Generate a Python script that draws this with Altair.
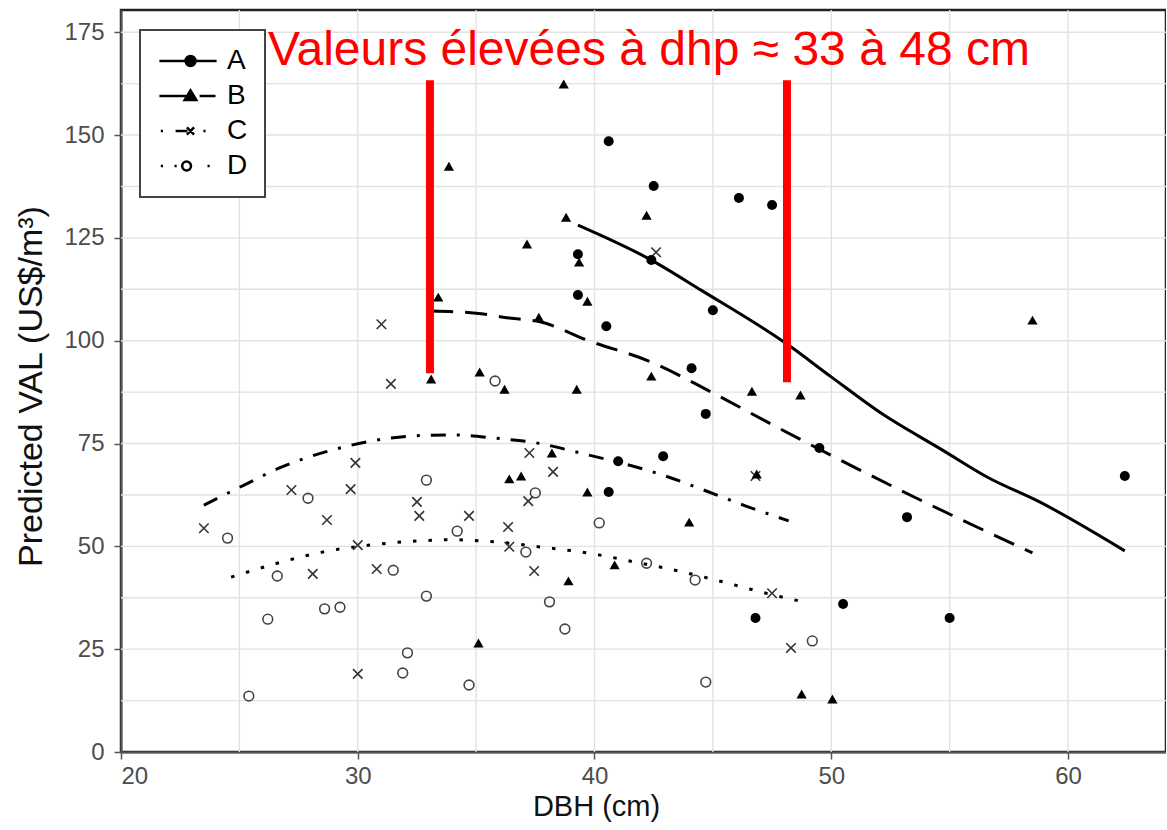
import altair as alt
import pandas as pd

# ---------------- data ----------------
series_keys = ["A", "B", "C", "D"]

a_x = [40.6, 42.5, 46.1, 47.5, 39.3, 42.4, 39.3, 40.5, 45.0, 44.1, 44.7, 49.5, 42.9, 41.0, 40.6, 53.2, 50.5, 55.0, 46.8, 62.4]
a_y = [148.5, 137.6, 134.7, 133.0, 121.0, 119.6, 111.1, 103.5, 107.4, 93.3, 82.2, 73.9, 71.9, 70.7, 63.2, 57.1, 36.0, 32.6, 32.6, 67.1]

b_x = [38.7, 33.85, 38.8, 42.2, 37.15, 39.35, 33.4, 39.7, 37.65, 33.1, 35.15, 36.2, 39.25, 42.4, 46.65, 48.7, 58.5,
       38.2, 36.4, 36.9, 39.7, 44.0, 46.85, 40.85, 38.9, 35.1, 48.75, 50.05]
b_y = [162.4, 142.4, 130.0, 130.5, 123.5, 119.1, 110.6, 109.6, 105.7, 90.7, 92.4, 88.2, 88.2, 91.4, 87.7, 86.8, 105.0,
       72.7, 66.4, 67.1, 63.2, 55.9, 67.6, 45.5, 41.6, 26.5, 14.1, 12.9]

c_x = [23.5, 27.2, 28.1, 28.7, 29.7, 29.9, 30.0, 30.0, 30.8, 31.0, 31.4, 32.5, 32.6, 34.7, 36.35, 36.4, 37.2, 37.25,
       38.25, 37.45, 42.6, 46.8, 47.5, 48.3]
c_y = [54.4, 63.7, 43.3, 56.4, 63.9, 70.3, 50.3, 19.0, 44.5, 104.0, 89.5, 60.8, 57.4, 57.4, 54.7, 49.9, 61.0, 72.7,
       68.1, 44.0, 121.5, 67.1, 38.6, 25.3]

d_x = [24.5, 25.4, 26.2, 26.6, 27.9, 28.6, 29.25, 31.5, 31.9, 32.1, 32.9, 32.9, 34.2, 34.7, 35.8, 37.1, 37.5, 38.1,
       38.75, 40.2, 42.2, 44.25, 44.7, 49.2]
d_y = [52.0, 13.6, 32.3, 42.8, 61.7, 34.8, 35.2, 44.2, 19.2, 24.1, 66.1, 37.9, 53.7, 16.3, 90.2, 48.6, 63.0, 36.5,
       29.9, 55.7, 45.9, 41.8, 17.0, 27.0]

# fitted curves
la_x = [39.3, 42.4, 44.5, 48.1, 50.0, 52.1, 54.7, 56.6, 58.8, 62.4]
la_y = [128.1, 119.6, 112.3, 99.3, 91.2, 82.4, 73.4, 66.8, 60.8, 48.9]
lb_x = [33.1, 35.0, 36.4, 37.7, 39.7, 42.4, 45.0, 47.7, 49.5, 53.5, 58.5]
lb_y = [107.2, 106.7, 105.5, 104.6, 100.1, 94.8, 87.3, 79.0, 73.6, 62.0, 48.4]
lc_x = [23.5, 25.2, 26.8, 28.6, 30.4, 32.2, 34.0, 35.8, 37.6, 39.4, 43.0, 44.75, 46.4, 48.2]
lc_y = [60.0, 64.9, 69.3, 72.9, 75.4, 76.8, 77.1, 76.3, 75.1, 72.7, 67.1, 63.4, 59.8, 56.2]
ld_x = [24.65, 26.6, 28.5, 30.5, 32.5, 34.0, 35.8, 37.8, 39.7, 41.7, 43.7, 45.6, 46.9, 48.9]
ld_y = [42.5, 45.9, 48.6, 50.3, 51.3, 51.6, 51.1, 49.8, 48.4, 46.2, 43.8, 41.1, 39.1, 36.4]

# axes
x_ticks = [20, 30, 40, 50, 60]
y_ticks = [0, 25, 50, 75, 100, 125, 150, 175]
x_grid = [25, 30, 35, 40, 45, 50, 55, 60]
y_grid = [12.5, 25, 37.5, 50, 62.5, 75, 87.5, 100, 112.5, 125, 137.5, 150, 162.5, 175]
x_domain = [20, 64.14]
y_domain = [0, 180.4]

# annotation
annot_text = ["Valeurs élevées à dhp ≈ 33 à 48 cm"]
annot_x = [42.3]
annot_y = [167.0]
bar_x = [33.05, 48.13]
bar_y = [92.1, 89.9]
bar_y2 = [163.3, 163.3]

# ---------------- chart ----------------
FONT = "Liberation Sans"
xs = alt.Scale(domain=x_domain, nice=False, zero=False)
ys = alt.Scale(domain=y_domain, nice=False, zero=False)

x_axis = alt.Axis(values=x_ticks, grid=False, title="DBH (cm)", labelFont=FONT, labelFontSize=24,
                  labelColor="#4d4d4d", titleFont=FONT, titleFontSize=29, titleFontWeight="normal",
                  titleColor="#111111", tickSize=7, tickWidth=1.5, tickColor="#555555",
                  domainColor="#555555", domainWidth=2, labelPadding=5, titleX=475,
                  titleBaseline="alphabetic", titleY=63, titleAnchor="start", titleAlign="center")
y_axis = alt.Axis(values=y_ticks, grid=False, title="Predicted VAL (US$/m³)", labelFont=FONT, labelFontSize=24,
                  labelColor="#4d4d4d", titleFont=FONT, titleFontSize=34, titleFontWeight="normal",
                  titleColor="#111111", tickSize=7, tickWidth=1.5, tickColor="#555555",
                  domainColor="#555555", domainWidth=2, labelPadding=10, titleX=-80, titleY=376,
                  titleBaseline="alphabetic", titleAnchor="start", titleAlign="center", titleAngle=270)


def X(f):
    return alt.X(f"{f}:Q", scale=xs, axis=x_axis)


def Y(f):
    return alt.Y(f"{f}:Q", scale=ys, axis=y_axis)


def pts(xv, yv):
    return pd.DataFrame({"x": xv, "y": yv})


grid_v = alt.Chart(pd.DataFrame({"x": x_grid})).mark_rule(color="#e2e2e2", strokeWidth=1.4).encode(x=X("x"))
grid_h = alt.Chart(pd.DataFrame({"y": y_grid})).mark_rule(color="#e2e2e2", strokeWidth=1.4).encode(y=Y("y"))

line_style = dict(color="black", strokeWidth=3, interpolate="monotone")
line_a = alt.Chart(pts(la_x, la_y)).mark_line(**line_style).encode(x=X("x"), y=Y("y"))
line_b = alt.Chart(pts(lb_x, lb_y)).mark_line(strokeDash=[22, 12], **line_style).encode(x=X("x"), y=Y("y"))
line_c = alt.Chart(pts(lc_x, lc_y)).mark_line(strokeDash=[15, 11, 3, 11], **line_style).encode(x=X("x"), y=Y("y"))
line_d = alt.Chart(pts(ld_x, ld_y)).mark_line(strokeDash=[3.5, 12], **line_style).encode(x=X("x"), y=Y("y"))

pt_a = alt.Chart(pts(a_x, a_y)).mark_point(shape="circle", filled=True, color="black", size=100, opacity=1).encode(x=X("x"), y=Y("y"))
pt_b = alt.Chart(pts(b_x, b_y)).mark_point(shape="triangle-up", filled=True, color="black", size=105, opacity=1).encode(x=X("x"), y=Y("y"))
pt_c = alt.Chart(pts(c_x, c_y)).mark_point(shape="M-1,-1L1,1M-1,1L1,-1", filled=False, color="#333333",
                                           strokeWidth=1.6, size=90, opacity=1).encode(x=X("x"), y=Y("y"))
pt_d = alt.Chart(pts(d_x, d_y)).mark_point(shape="circle", filled=False, color="#444444", strokeWidth=1.6,
                                           size=95, opacity=1).encode(x=X("x"), y=Y("y"))

bars = alt.Chart(pd.DataFrame({"x": bar_x, "y": bar_y, "y2": bar_y2})).mark_rule(
    color="#ff0000", strokeWidth=8).encode(x=X("x"), y=Y("y"), y2="y2:Q")
label = alt.Chart(pd.DataFrame({"x": annot_x, "y": annot_y, "t": annot_text})).mark_text(
    font=FONT, fontSize=48, color="#ff0000", align="center", baseline="alphabetic").encode(x=X("x"), y=Y("y"), text="t:N")

# legend glyphs (line + marker), drawn by the legend itself (unit = 10 px)
legend_paths = [
    "M-2.86,0L2.86,0M0.75,0A0.5,0.5,0,1,1,-0.25,0A0.5,0.5,0,1,1,0.75,0Z",
    "M-2.86,0L0.25,0M1.16,0L2.75,0M0.25,-0.55L0.83,0.39L-0.33,0.39Z",
    "M-2.72,0L-2.5,0M-1.24,0L-0.06,0M-0.11,-0.36L0.61,0.36M-0.11,0.36L0.61,-0.36M1.54,0L1.76,0",
    "M-2.72,0L-2.5,0M-1.35,0L-1.13,0M0.3,0A0.44,0.44,0,1,1,-0.58,0A0.44,0.44,0,1,1,0.3,0ZM1.95,0L2.17,0",
]
legend_fills = ["black", "black", "white", "white"]
legend_strokes = ["black", "black", "black", "black"]
leg = alt.Legend(title=None, orient="none", legendX=19, legendY=20, fillColor="white", strokeColor="#444444",
                 padding=17, labelFont=FONT, labelFontSize=28, labelColor="black", symbolSize=400,
                 symbolStrokeWidth=2.5, symbolStrokeColor="black", symbolOffset=17, labelOffset=25,
                 rowPadding=7)
legend_layer = alt.Chart(pd.DataFrame({"key": series_keys})).transform_filter("false").mark_point(
    filled=False, strokeWidth=2.5, opacity=1).encode(
    shape=alt.Shape("key:N", scale=alt.Scale(domain=series_keys, range=legend_paths), legend=leg),
    fill=alt.Fill("key:N", scale=alt.Scale(domain=series_keys, range=legend_fills), legend=leg),
    stroke=alt.Stroke("key:N", scale=alt.Scale(domain=series_keys, range=legend_strokes), legend=leg),
)

chart = alt.layer(
    grid_v, grid_h, line_a, line_b, line_c, line_d, pt_d, pt_c, pt_b, pt_a, bars, label, legend_layer
).properties(
    width=1045, height=742,
    padding={"left": 121, "top": 10, "right": 0, "bottom": 78},
    autosize=alt.AutoSizeParams(type="none"),
    background="white",
).configure_view(stroke="#222222", strokeWidth=2.5).configure_legend(strokeWidth=2)

chart.save("out.html", embed_options={"renderer": "svg", "actions": False})
